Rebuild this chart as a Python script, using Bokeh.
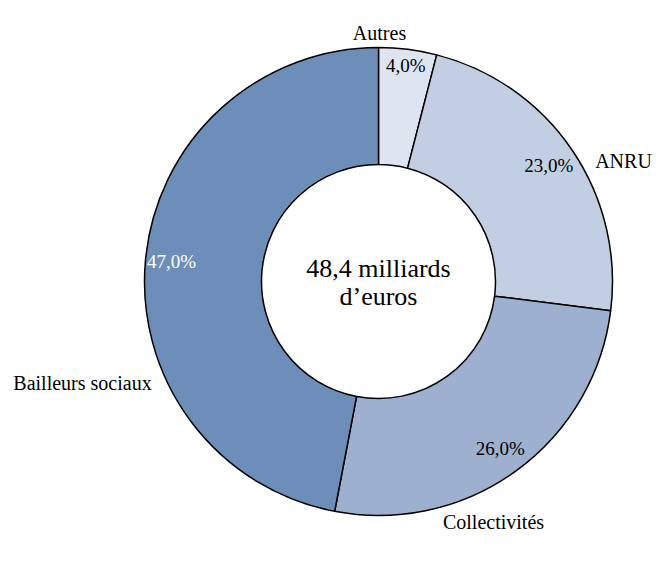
import math
from bokeh.plotting import figure
from bokeh.models import Range1d, ColumnDataSource
from bokeh.core.properties import value
from bokeh.embed import file_html
from bokeh.resources import INLINE

# ---- data ----
categories = ["Autres", "ANRU", "Collectivités", "Bailleurs sociaux"]
shares = [4.0, 23.0, 26.0, 47.0]
pct_labels = ["4,0%", "23,0%", "26,0%", "47,0%"]
center_lines = ["48,4 milliards", "d’euros"]

# ---- style / layout ----
colors = ["#DEE5F0", "#C2CEE1", "#9DB0CF", "#6E8EBA"]
pct_colors = ["black", "black", "black", "white"]
pct_radius = [218, 206, 207, 208]
W, H = 660, 558
FONT = "Liberation Serif"

def to_data(sx, sy):
    # screenshot pixel -> data coords
    return sx, H - sy

cx, cy = to_data(378, 281)
R_OUT, R_IN = 234, 117

total = sum(shares)
starts, ends, mids = [], [], []
cum = 0.0
for s in shares:
    a0 = cum / total
    a1 = (cum + s) / total
    starts.append(math.pi / 2 - 2 * math.pi * a0)
    ends.append(math.pi / 2 - 2 * math.pi * a1)
    mids.append(2 * math.pi * (a0 + a1) / 2)
    cum += s

src = ColumnDataSource(dict(cat=categories, start=starts, end=ends, color=colors))

p = figure(width=W, height=H, x_range=Range1d(0, W), y_range=Range1d(0, H),
           x_axis_type=None, y_axis_type=None, output_backend="svg",
           toolbar_location=None, min_border=0)
p.outline_line_color = None
p.background_fill_color = "white"
p.border_fill_color = "white"

p.annular_wedge(x=cx, y=cy, inner_radius=R_IN, outer_radius=R_OUT,
                start_angle="start", end_angle="end", direction="clock",
                fill_color="color", line_color="black", line_width=1.5, source=src)

# percent labels
px = [cx + r * math.sin(m) for r, m in zip(pct_radius, mids)]
py = [cy + r * math.cos(m) for r, m in zip(pct_radius, mids)]
p.text(x=px, y=py, text=pct_labels, text_color=pct_colors,
       text_font=value(FONT), text_font_size="19px",
       text_align="center", text_baseline="middle")

# category labels (outside)
cat_pos = [(379, 32), (623, 160), (493, 521), (82, 382)]
lx = [to_data(*c)[0] for c in cat_pos]
ly = [to_data(*c)[1] for c in cat_pos]
p.text(x=lx, y=ly, text=categories, text_color="black",
       text_font=value(FONT), text_font_size="20px",
       text_align="center", text_baseline="middle")

# center text
c1 = to_data(378, 268)
c2 = to_data(378, 296)
p.text(x=[c1[0], c2[0]], y=[c1[1], c2[1]], text=center_lines, text_color="black",
       text_font=value(FONT), text_font_size="26px",
       text_align="center", text_baseline="middle")

open("out.html", "w").write(file_html(p, INLINE))
